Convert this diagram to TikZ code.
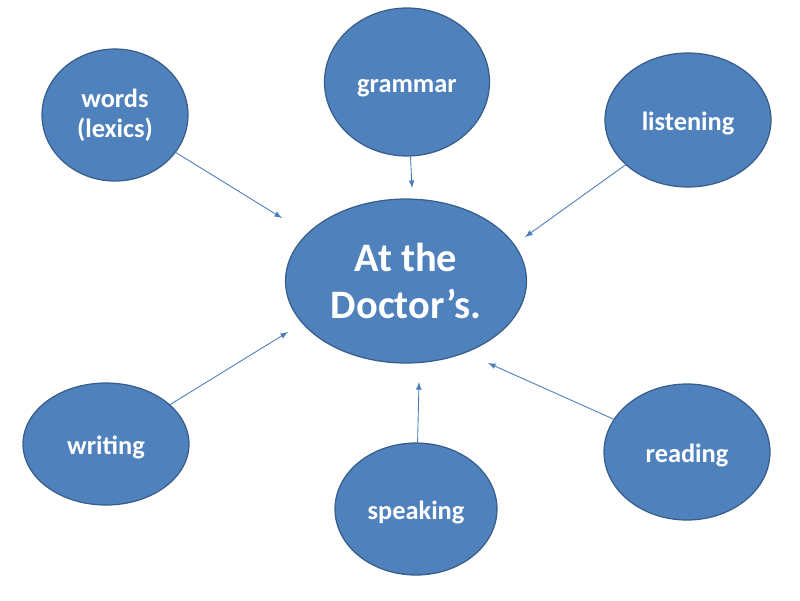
\documentclass[tikz,border=0pt]{standalone}
\usepackage{fontspec}
\setmainfont{Carlito}
\usepackage{tikz}
\usetikzlibrary{shapes}
\usetikzlibrary{arrows}

\definecolor{bubblefill}{HTML}{4F81BD}
\definecolor{bubbleedge}{HTML}{385D8A}
\definecolor{arrowline}{HTML}{4A7EBB}

\begin{document}
\begin{tikzpicture}[
    x=0.02cm, y=-0.02cm,
    >=latex,
    every node/.style={font=\fontsize{15}{17}\selectfont\bfseries, text=white},
    bubble/.style={draw=bubbleedge, line width=0.7pt, fill=bubblefill, ellipse, inner sep=0pt, align=center},
    skill/.style={bubble, text height=14pt, text depth=2pt},
    link/.style={->, draw=arrowline, line width=0.5pt}
]
\useasboundingbox (0,0) rectangle (800,600);
\node[bubble, minimum width=4.82cm, minimum height=3.28cm, font=\fontsize{23}{27}\selectfont\bfseries] (topic) at (406,281) {At the\\Doctor’s.};
\node[skill, minimum width=3.3cm, minimum height=2.96cm] (grammar) at (407,82) {grammar};
\node[bubble, minimum width=2.92cm, minimum height=2.64cm] (words) at (115,115) {words\\(lexics)};
\node[skill, minimum width=3.32cm, minimum height=2.68cm] (listening) at (688,120) {listening};
\node[skill, minimum width=3.32cm, minimum height=2.44cm] (writing) at (106,444) {writing};
\node[skill, minimum width=3.24cm, minimum height=2.64cm] (speaking) at (416,509) {speaking};
\node[skill, minimum width=3.32cm, minimum height=2.72cm] (reading) at (687,452) {reading};
% arrow tips stop short of the topic
\coordinate (wordsEnd) at (282,218);
\coordinate (grammarEnd) at (412,188);
\coordinate (listeningEnd) at (525,237);
\coordinate (writingEnd) at (288,332);
\coordinate (speakingEnd) at (419,382);
\coordinate (readingEnd) at (488,363);
\draw[link] (words) -- (wordsEnd);
\draw[link] (grammar) -- (grammarEnd);
\draw[link] (listening) -- (listeningEnd);
\draw[link] (writing) -- (writingEnd);
\draw[link] (speaking) -- (speakingEnd);
\draw[link] (reading) -- (readingEnd);
\end{tikzpicture}
\end{document}
